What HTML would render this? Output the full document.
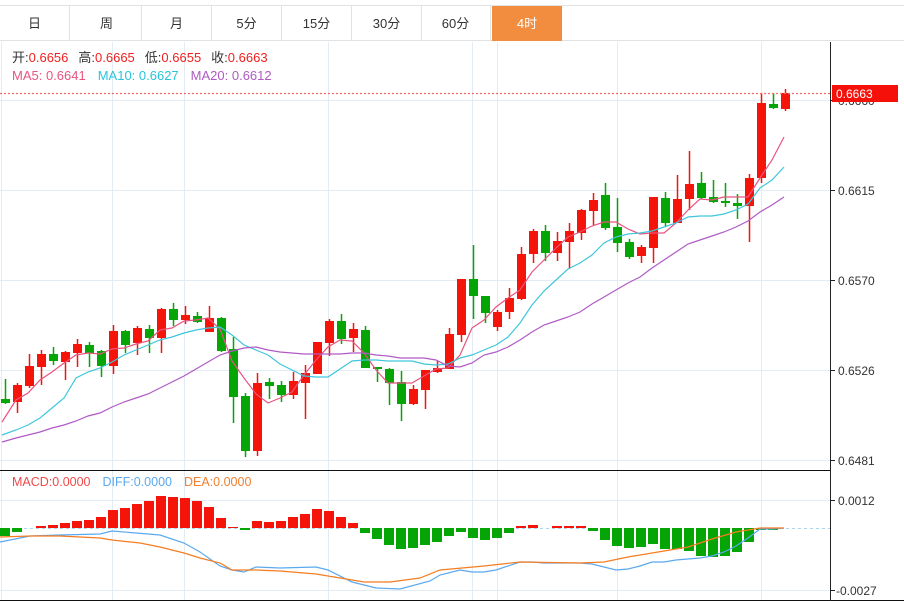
<!DOCTYPE html>
<html><head><meta charset="utf-8">
<style>
body{margin:0;width:904px;height:601px;overflow:hidden;background:#fff;font-family:"Liberation Sans","Noto Sans CJK SC",sans-serif;}
#tabs{position:absolute;left:0;top:5px;height:36px;width:904px;border-top:1px solid #e2e2e2;border-bottom:1px solid #e2e2e2;box-sizing:border-box;}
.tab{position:absolute;top:0;height:35px;width:70px;border-right:1px solid #e2e2e2;box-sizing:border-box;text-align:center;line-height:35px;font-size:13px;color:#333;}
.tab.on{background:#f28c3f;color:#fff;border-right:none;}
svg{position:absolute;left:0;top:0;}
</style></head><body>
<div id="tabs">
<div class="tab" style="left:0">日</div>
<div class="tab" style="left:72px">周</div>
<div class="tab" style="left:142px">月</div>
<div class="tab" style="left:212px">5分</div>
<div class="tab" style="left:282px">15分</div>
<div class="tab" style="left:352px">30分</div>
<div class="tab" style="left:421px">60分</div>
<div class="tab on" style="left:492px">4时</div>
</div>
<svg id="s" width="904" height="601" xmlns="http://www.w3.org/2000/svg" style="top:0">
<g stroke="#e3ecf3" stroke-width="1">
<line x1="0" y1="100.5" x2="830" y2="100.5"/><line x1="0" y1="190.5" x2="830" y2="190.5"/>
<line x1="0" y1="280.5" x2="830" y2="280.5"/><line x1="0" y1="370.5" x2="830" y2="370.5"/>
<line x1="0" y1="460.5" x2="830" y2="460.5"/>
<line x1="0" y1="500.5" x2="830" y2="500.5"/><line x1="0" y1="590.5" x2="830" y2="590.5"/>
<line x1="112.5" y1="42" x2="112.5" y2="600"/><line x1="184.5" y1="42" x2="184.5" y2="600"/>
<line x1="328.5" y1="42" x2="328.5" y2="600"/><line x1="472.5" y1="42" x2="472.5" y2="600"/>
<line x1="497.5" y1="42" x2="497.5" y2="600"/><line x1="617.5" y1="42" x2="617.5" y2="600"/>
<line x1="761.5" y1="42" x2="761.5" y2="600"/>
<line x1="1.5" y1="42" x2="1.5" y2="600"/>
</g>
<g id="cd"></g>
<g id="ma" fill="none" stroke-width="1.2"></g>
<line x1="0" y1="93.5" x2="830" y2="93.5" stroke="#f26a6a" stroke-width="1.2" stroke-dasharray="2,2"/>
<line x1="0" y1="528.5" x2="830" y2="528.5" stroke="#a8d8ee" stroke-dasharray="3,3"/>
<g id="mh"></g>
<g id="ml" fill="none" stroke-width="1.2"></g>
<line x1="0" y1="470.5" x2="830" y2="470.5" stroke="#111"/>
<line x1="0" y1="600.5" x2="904" y2="600.5" stroke="#111"/>
<line x1="830.5" y1="42" x2="830.5" y2="601" stroke="#222"/>
<g stroke="#222"><line x1="830" y1="190.5" x2="835" y2="190.5"/><line x1="830" y1="280.5" x2="835" y2="280.5"/><line x1="830" y1="370.5" x2="835" y2="370.5"/><line x1="830" y1="460.5" x2="835" y2="460.5"/><line x1="830" y1="100.5" x2="835" y2="100.5"/><line x1="830" y1="500.5" x2="835" y2="500.5"/><line x1="830" y1="590.5" x2="835" y2="590.5"/></g>
<g font-size="12" fill="#333">
<text x="838" y="105">0.6660</text><text x="838" y="195">0.6615</text><text x="838" y="285">0.6570</text><text x="838" y="375">0.6526</text><text x="838" y="465">0.6481</text>
<text x="838" y="505">0.0012</text><text x="836" y="595">-0.0027</text>
</g>
<rect x="832" y="85" width="66" height="17" fill="#f5100a"/>
<text x="836" y="98" font-size="12" fill="#fff">0.6663</text>
<g font-size="13">
<text x="12" y="62"><tspan fill="#333">开:</tspan><tspan fill="#f02020">0.6656</tspan><tspan fill="#333" dx="10">高:</tspan><tspan fill="#f02020">0.6665</tspan><tspan fill="#333" dx="10">低:</tspan><tspan fill="#f02020">0.6655</tspan><tspan fill="#333" dx="10">收:</tspan><tspan fill="#f02020">0.6663</tspan></text>
<text x="12" y="80"><tspan fill="#e9547f">MA5: 0.6641</tspan><tspan fill="#27c4da" dx="12">MA10: 0.6627</tspan><tspan fill="#b05ac5" dx="12">MA20: 0.6612</tspan></text>
<text x="12" y="486" font-size="12.5"><tspan fill="#f04848">MACD:0.0000</tspan><tspan fill="#5aa9f0" dx="12">DIFF:0.0000</tspan><tspan fill="#f08030" dx="12">DEA:0.0000</tspan></text>
</g>
</svg>
<script>
var C=[[399,403,379,404],[402,385,383,413],[386,366,354,388],[367,354,350,385],[354,361,347,365],[362,352,351,380],[353,344,339,367],[345,353,342,367],[351,366,350,377],[366,331,325,374],[331,345,330,353],[343,328,326,355],[329,338,325,353],[338,309,308,353],[309,320,303,326],[320,315,306,324],[316,322,312,323],[332,318,306,332],[318,351,317,352],[349,397,337,423],[396,451,393,457],[451,383,373,456],[382,386,378,399],[385,395,381,402],[395,381,372,399],[383,373,365,419],[374,342,342,374],[343,321,319,356],[321,339,314,344],[338,329,323,352],[330,368,326,368],[367,369,367,382],[369,383,368,405],[382,404,371,421],[404,389,385,405],[390,370,370,409],[372,368,361,373],[369,334,328,369],[335,279,279,342],[279,296,245,319],[296,313,296,323],[327,312,310,331],[312,298,288,319],[299,254,247,300],[254,231,229,263],[231,253,225,261],[253,241,232,261],[242,231,223,269],[233,210,209,240],[211,200,193,225],[195,228,183,230],[227,243,198,252],[242,257,239,259],[256,247,245,263],[248,197,197,263],[198,223,192,227],[223,199,175,223],[199,184,151,210],[183,198,172,199],[197,202,180,203],[201,203,183,207],[203,206,194,219],[206,178,174,242],[178,103,93,183],[104,108,93,109],[109,93,89,111]];
var cd=document.getElementById("cd"),h="";
C.forEach(function(c,i){var x=5+12*i,up=c[1]<c[0],col=up?"#f5140a":"#04a504";
var t=Math.min(c[0],c[1]),b=Math.max(c[0],c[1]);if(b-t<2)b=t+2;
h+='<line x1="'+(x+.5)+'" x2="'+(x+.5)+'" y1="'+c[2]+'" y2="'+c[3]+'" stroke="'+col+'" stroke-width="1.5"/>';
h+='<rect x="'+(x-4)+'" y="'+t+'" width="9" height="'+(b-t)+'" fill="'+col+'"/>';});
cd.innerHTML=h;
function P(a,col){return '<polyline stroke="'+col+'" points="'+a.join(" ")+'"/>';}
var ma5="2,422 16,400 28,393 40,380 52,372 64,363 76,355 88,353 100,354 112,349 124,348 136,344 148,341 160,330 172,328 184,321 196,320 208,318 220,329 232,361 244,378 256,394 268,403 280,398 292,392 304,375 316,360 328,347 340,340 352,341 364,353 376,370 388,383 400,383 412,383 424,376 436,369 448,368 460,355 472,328 484,320 496,307 508,298 520,290 532,272 544,260 556,248 568,237 580,232 592,226 604,222 616,222 628,229 640,234 652,233 664,233 676,223 688,210 700,199 712,200 724,197 736,197 748,197 760,178 772,160 784,137".split(" ");
var ma10="2,435 16,430 28,425 40,418 52,408 64,398 76,378 88,372 100,368 112,362 124,355 136,350 148,345 160,340 172,337 184,333 196,330 208,328 220,327 232,335 244,345 256,350 268,355 280,364 292,370 304,376 316,377 328,377 340,369 352,361 364,360 376,360 388,361 400,361 412,361 424,364 436,365 448,364 460,358 472,355 484,350 496,345 508,337 520,323 532,305 544,291 556,280 568,269 580,263 592,255 604,243 616,237 628,234 640,233 652,231 664,227 676,223 688,217 700,216 712,216 724,214 736,210 748,204 760,188 772,180 784,167".split(" ");
var ma20="2,442 16,438 28,435 40,432 52,428 64,425 76,421 88,416 100,413 112,407 124,402 136,398 148,394 160,388 172,382 184,376 196,369 208,362 220,355 232,351 244,348 256,347 268,350 280,352 292,353 304,354 316,354 328,354 340,354 352,353 364,353 376,355 388,356 400,358 412,358 424,358 436,360 448,366 460,367 472,363 484,355 496,352 508,347 520,340 532,332 544,325 556,321 568,317 580,312 592,304 604,297 616,290 628,283 640,277 652,268 664,260 676,252 688,244 700,240 712,236 724,232 736,227 748,221 760,212 772,205 784,197".split(" ");
document.getElementById("ma").innerHTML=P(ma5,"#e9547f")+P(ma10,"#3fc6dc")+P(ma20,"#b05ac5");
var M=[536,532,528,526,525,523,521,520,517,510,508,504,501,496,497,498,501,507,518,527,530,521,522,521,517,514,509,511,517,523,533,539,545,549,548,545,542,536,532,538,540,538,533,526,525,528,526,526,526,531,540,546,548,547,544,549,549,551,556,557,556,552,542,530,530,528];
var mh="";M.forEach(function(v,i){var x=5+12*i;if(Math.abs(v-528)<1)return;var up=v<528;var t=Math.min(v,528),b=Math.max(v,528);
var col=up?"#f5140a":"#04a504";
mh+='<rect x="'+(x-5)+'" y="'+(up?t:528)+'" width="10" height="'+(b-t)+'" fill="'+col+'"/>';});
document.getElementById("mh").innerHTML=mh;
var diff="0,542 30,536 60,535 100,534 112,531 136,533 160,535 184,543 200,552 220,566 232,570 244,572 256,567 280,568 316,567 328,570 352,582 376,588 400,589 430,581 440,575 460,570 472,572 484,572 496,570 520,562 532,562 544,563 580,563 592,564 616,570 628,569 640,566 652,562 664,562 676,560 700,558 712,556 724,552 736,546 748,538 760,529 772,529 784,528".split(" ");
var dea="0,537 30,536 60,536 100,538 112,540 140,543 160,547 184,553 200,558 220,563 232,570 256,570 280,571 316,574 340,578 364,582 390,582 420,578 440,570 484,566 520,562 580,563 604,562 628,557 664,551 688,547 712,539 736,532 760,528 784,528".split(" ");
document.getElementById("ml").innerHTML=P(diff,"#5aa9f0")+P(dea,"#f57c20");
</script>
</body></html>
